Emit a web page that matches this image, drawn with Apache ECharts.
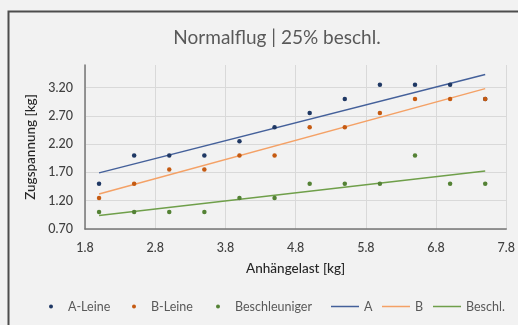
<!DOCTYPE html>
<html>
<head>
<meta charset="utf-8">
<script src="https://cdn.jsdelivr.net/npm/echarts@6/dist/echarts.min.js"></script>
<style>
  html, body { margin: 0; padding: 0; background: #f2f2f2; }
  #chart { width: 518px; height: 325px; }
</style>
</head>
<body>
<div id="chart"></div>
<script>
// Anhängelast (kg) of each measurement
const loads = [2, 2.5, 3, 3.5, 4, 4.5, 5, 5.5, 6, 6.5, 7, 7.5];
// Measured line tension (kg)
const aLeine = [1.5, 2, 2, 2, 2.25, 2.5, 2.75, 3, 3.25, 3.25, 3.25, 3];
const bLeine = [1.25, 1.5, 1.75, 1.75, 2, 2, 2.5, 2.5, 2.75, 3, 3, 3];
const beschleuniger = [1, 1, 1, 1, 1.25, 1.25, 1.5, 1.5, 1.5, 2, 1.5, 1.5];

const xTicks = { min: 1.8, max: 7.8, step: 1 };
const yTicks = { min: 0.7, max: 3.6, step: 0.5 };

const FONT = 'Lato, "Open Sans", sans-serif';

// Least-squares trend line across the measured range
function trend(xs, ys) {
  const n = xs.length;
  const mx = xs.reduce((a, b) => a + b, 0) / n;
  const my = ys.reduce((a, b) => a + b, 0) / n;
  let sxy = 0, sxx = 0;
  for (let i = 0; i < n; i++) {
    sxy += (xs[i] - mx) * (ys[i] - my);
    sxx += (xs[i] - mx) * (xs[i] - mx);
  }
  const k = sxy / sxx;
  const x0 = Math.min(...xs), x1 = Math.max(...xs);
  return [[x0, my + k * (x0 - mx)], [x1, my + k * (x1 - mx)]];
}

const pairs = ys => loads.map((x, i) => [x, ys[i]]);

const colors = {
  aPt: '#1f3864', bPt: '#c55a11', cPt: '#548235',
  aLn: '#44609a', bLn: '#f4a166', cLn: '#6f9f4a'
};

function scatter(name, ys, color) {
  return { name, type: 'scatter', data: pairs(ys), symbolSize: 4.5,
           itemStyle: { color, opacity: 1 }, z: 3 };
}
function trendLine(name, ys, color) {
  return { name, type: 'line', data: trend(loads, ys), showSymbol: false,
           lineStyle: { color, width: 1.5 }, itemStyle: { color }, z: 2 };
}

function legendItem(name, left, kind) {
  const base = {
    data: [name], left, bottom: 12, padding: 0,
    textStyle: { fontFamily: FONT, fontSize: 12.5, color: '#595959' },
    selectedMode: false
  };
  if (kind === 'dot') {
    return Object.assign(base, { itemWidth: 24, itemHeight: 4, icon: 'circle' });
  }
  return Object.assign(base, { itemWidth: 28, itemHeight: 1.5, icon: 'rect' });
}

const chart = echarts.init(document.getElementById('chart'));
chart.setOption({
  backgroundColor: '#f2f2f2',
  animation: false,
  textStyle: { fontFamily: FONT },
  title: {
    text: 'Normalflug | 25% beschl.',
    left: 272, top: 23, textAlign: 'center',
    textStyle: { fontFamily: FONT, fontSize: 19, fontWeight: 'normal', color: '#595959' }
  },
  graphic: [{
    type: 'rect', silent: true,
    shape: { x: 8.5, y: 11.5, width: 600, height: 400 },
    style: { fill: 'none', stroke: '#4d4d4d', lineWidth: 2 }
  }],
  grid: { left: 85, right: 7, top: 65, bottom: 96 },
  xAxis: {
    type: 'value', min: xTicks.min, max: xTicks.max, interval: xTicks.step,
    name: 'Anhängelast [kg]', nameLocation: 'middle', nameGap: 33,
    nameTextStyle: { fontFamily: FONT, fontSize: 13.5, color: '#262626', fontWeight: 500 },
    axisLine: { lineStyle: { color: '#767676', width: 1.5 } },
    axisTick: { show: false },
    axisLabel: { formatter: v => v.toFixed(1), fontSize: 12.5, color: '#404040', margin: 12, fontWeight: 500 },
    splitLine: { show: true, lineStyle: { color: '#d9d9d9', width: 1 } }
  },
  yAxis: {
    type: 'value', min: yTicks.min, max: yTicks.max, interval: yTicks.step,
    name: 'Zugspannung [kg]', nameLocation: 'middle', nameGap: 42,
    nameTextStyle: { fontFamily: FONT, fontSize: 13.5, color: '#262626', fontWeight: 500 },
    axisLine: { show: true, lineStyle: { color: '#767676', width: 1.5 } },
    axisTick: { show: false },
    axisLabel: { formatter: v => v.toFixed(2), fontSize: 12.5, color: '#404040', margin: 12,
                 showMaxLabel: false, fontWeight: 500 },
    splitLine: { show: true, showMaxLine: false, lineStyle: { color: '#d9d9d9', width: 1 } }
  },
  legend: [
    legendItem('A-Leine', 49, 'dot'),
    legendItem('B-Leine', 132, 'dot'),
    legendItem('Beschleuniger', 216, 'dot'),
    legendItem('A', 331, 'line'),
    legendItem('B', 382, 'line'),
    legendItem('Beschl.', 433, 'line')
  ],
  series: [
    scatter('A-Leine', aLeine, colors.aPt),
    scatter('B-Leine', bLeine, colors.bPt),
    scatter('Beschleuniger', beschleuniger, colors.cPt),
    trendLine('A', aLeine, colors.aLn),
    trendLine('B', bLeine, colors.bLn),
    trendLine('Beschl.', beschleuniger, colors.cLn)
  ]
});
</script>
</body>
</html>
